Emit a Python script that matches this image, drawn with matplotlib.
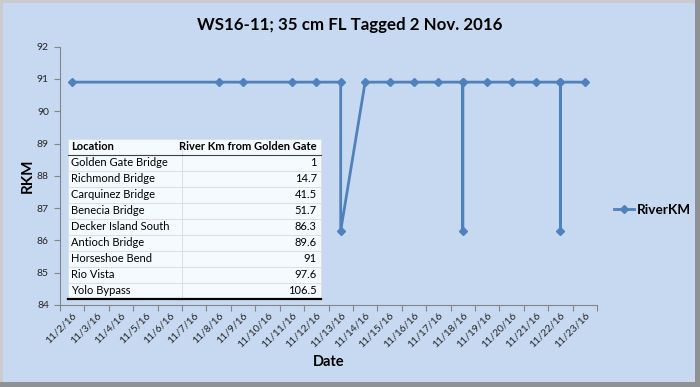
from datetime import datetime, timedelta

import matplotlib
matplotlib.use("Agg")
import matplotlib.dates as mdates
import matplotlib.pyplot as plt
from matplotlib.patches import Rectangle
from matplotlib.ticker import FixedLocator, FuncFormatter

# detection record (several detections on the same day share one date)
dates = [
    "2016-11-02", "2016-11-08", "2016-11-09", "2016-11-11", "2016-11-12",
    "2016-11-13", "2016-11-13", "2016-11-14", "2016-11-15", "2016-11-16",
    "2016-11-17", "2016-11-18", "2016-11-18", "2016-11-18", "2016-11-19",
    "2016-11-20", "2016-11-21", "2016-11-22", "2016-11-22", "2016-11-22",
    "2016-11-23",
]
river_km = [
    90.9, 90.9, 90.9, 90.9, 90.9,
    90.9, 86.3, 90.9, 90.9, 90.9,
    90.9, 90.9, 86.3, 90.9, 90.9,
    90.9, 90.9, 90.9, 86.3, 90.9,
    90.9,
]

# reference table of receiver locations
locations = [
    "Golden Gate Bridge", "Richmond Bridge", "Carquinez Bridge", "Benecia Bridge",
    "Decker Island South", "Antioch Bridge", "Horseshoe Bend", "Rio Vista", "Yolo Bypass",
]
location_km = ["1", "14.7", "41.5", "51.7", "86.3", "89.6", "91", "97.6", "106.5"]

first_day = "2016-11-02"
last_day = "2016-11-23"
y_ticks = [84, 85, 86, 87, 88, 89, 90, 91, 92]

BG = "#C6D9F1"
LINE = "#4F81BD"
AXIS = "#868686"
FONT = "Lato"

plt.rcParams["font.family"] = [FONT, "DejaVu Sans"]

W, H = 700, 387
fig = plt.figure(figsize=(W / 100, H / 100), dpi=100)
fig.patch.set_facecolor("#8E9196")
# lighter frame on top/left, then the chart fill
fig.add_artist(Rectangle((0, 5 / H), 695 / W, 1 - 5 / H, transform=fig.transFigure,
                         facecolor="#C9CBCE", edgecolor="none", zorder=-3))
fig.add_artist(Rectangle((3 / W, 5 / H), 692 / W, 1 - 8 / H, transform=fig.transFigure,
                         facecolor=BG, edgecolor="none", zorder=-2))

ax = fig.add_axes([60 / W, 1 - 305 / H, 537 / W, 258.4 / H])
ax.set_facecolor("none")

x = mdates.date2num([datetime.strptime(d, "%Y-%m-%d") for d in dates])
ax.plot(x, river_km, color=LINE, lw=2.0, marker="D", markersize=4.5,
        markerfacecolor=LINE, markeredgecolor=LINE, label="RiverKM", zorder=3)

start = datetime.strptime(first_day, "%Y-%m-%d")
end = datetime.strptime(last_day, "%Y-%m-%d")
n_days = (end - start).days
day_nums = [mdates.date2num(start + timedelta(days=i)) for i in range(n_days + 1)]
ax.set_xlim(day_nums[0] - 0.5, day_nums[-1] + 0.5)
ax.set_ylim(y_ticks[0], y_ticks[-1])

ax.xaxis.set_major_locator(FixedLocator(day_nums))
ax.xaxis.set_minor_locator(FixedLocator([d - 0.5 for d in day_nums] + [day_nums[-1] + 0.5]))


def date_label(v, pos):
    d = mdates.num2date(v)
    return f"{d.month}/{d.day}/{d.year % 100}"


ax.xaxis.set_major_formatter(FuncFormatter(date_label))
ax.tick_params(axis="x", which="major", length=0, pad=4, labelsize=7.5, labelcolor="#262626")
ax.tick_params(axis="x", which="minor", length=4, color=AXIS, width=0.8)
for lbl in ax.get_xticklabels():
    lbl.set_rotation(45)
    lbl.set_ha("right")
    lbl.set_rotation_mode("anchor")

ax.set_yticks(y_ticks)
ax.tick_params(axis="y", length=4, color=AXIS, width=0.8, labelsize=7.5,
               labelcolor="#262626", pad=4)

for side in ("top", "right"):
    ax.spines[side].set_visible(False)
for side in ("left", "bottom"):
    ax.spines[side].set_color(AXIS)
    ax.spines[side].set_linewidth(0.8)

fig.text(350 / W, 1 - 25 / H, "WS16-11; 35 cm FL Tagged 2 Nov. 2016",
         ha="center", va="center", fontsize=12.2, fontweight="bold")
fig.text(28 / W, 1 - 176 / H, "RKM", rotation=90, ha="center", va="center",
         fontsize=11, fontweight="bold")
fig.text(329 / W, 1 - 362 / H, "Date", ha="center", va="center",
         fontsize=10.5, fontweight="bold")

leg = ax.legend(loc="center left", bbox_to_anchor=(607 / W, 1 - 210 / H),
                bbox_transform=fig.transFigure, frameon=False, handlelength=1.5,
                handletextpad=0.2, borderpad=0, markerscale=0.8,
                prop={"family": FONT, "weight": "bold", "size": 9.8})

# embedded location table
cell_text = [["Location", "River Km from Golden Gate"]] + [
    [loc, km] for loc, km in zip(locations, location_km)
]
x0 = (68 - 60) / 537
x1 = (321 - 60) / 537
y0 = (305 - 299) / 258.4
y1 = (305 - 139) / 258.4
tbl = ax.table(cellText=cell_text, colWidths=[0.45 * (x1 - x0), 0.55 * (x1 - x0)],
               bbox=[x0, y0, x1 - x0, y1 - y0], zorder=4)
tbl.auto_set_font_size(False)
for (r, c), cell in tbl.get_celld().items():
    cell.set_facecolor("#F4FBFE")
    cell.set_edgecolor("#D9DDE0")
    cell.set_linewidth(0.6)
    cell.PAD = 0.03
    txt = cell.get_text()
    txt.set_fontsize(8)
    txt.set_family([FONT, "DejaVu Sans"])
    if r == 0:
        txt.set_fontweight("bold")
    txt.set_ha("left" if c == 0 else "right")
    cell._loc = "left" if c == 0 else "right"

row_h = (y1 - y0) / len(cell_text)
ax.plot([x0, x1], [y1 - row_h, y1 - row_h], transform=ax.transAxes, color="#404040",
        lw=0.8, zorder=5, clip_on=False)
ax.plot([x0, x1], [y0, y0], transform=ax.transAxes, color="black", lw=1.6, zorder=5,
        clip_on=False)

fig.savefig("out.png", dpi=100, facecolor=fig.get_facecolor())
